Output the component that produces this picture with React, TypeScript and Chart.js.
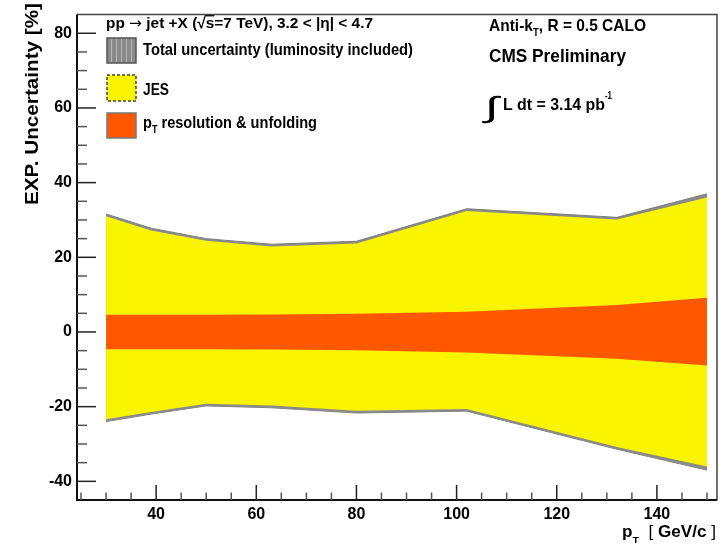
import React, { useEffect, useRef } from 'react';
import { Chart, registerables } from 'chart.js';

Chart.register(...registerables);

// ---- data ----
const ptPoints = [30, 39, 50, 63, 80, 102, 132, 150];
const totalUp = [31.6, 27.8, 25.0, 23.5, 24.3, 33.0, 30.7, 37.0];
const totalDown = [-24.0, -22.0, -19.8, -20.3, -21.7, -21.2, -31.4, -37.0];
const jesUp = [31.0, 27.2, 24.4, 22.9, 23.7, 32.4, 30.1, 36.0];
const jesDown = [-23.4, -21.4, -19.2, -19.7, -21.1, -20.6, -30.8, -36.0];
const resUp = [4.6, 4.6, 4.6, 4.7, 4.9, 5.4, 7.2, 9.2];
const resDown = [-4.6, -4.6, -4.6, -4.7, -4.9, -5.5, -7.2, -9.0];
const xTicks = [40, 60, 80, 100, 120, 140];
const yTicks = [-40, -20, 0, 20, 40, 60, 80];
const xRange = [24.2, 152];
const yRange = [-45, 85];

const FONT = '"Liberation Sans", Arial, Helvetica, sans-serif';
const ORANGE = '#ff5800';
const YELLOW = '#f9f400';
const GREY = '#8a8a8a';

const zip = (xs: number[], ys: number[]) => xs.map((x, i) => ({ x, y: ys[i] }));

type Seg = { t: string; k?: number; dy?: number; over?: boolean; weight?: string; family?: string };

function rich(
  ctx: CanvasRenderingContext2D,
  segs: Seg[],
  x: number,
  y: number,
  size: number,
  width?: number,
  align: 'left' | 'right' = 'left',
  color = '#000'
) {
  ctx.save();
  const fontFor = (s: Seg) => `${s.weight ?? 'bold'} ${size * (s.k ?? 1)}px ${s.family ?? FONT}`;
  let natural = 0;
  segs.forEach((s) => {
    ctx.font = fontFor(s);
    natural += ctx.measureText(s.t).width;
  });
  const sx = width ? width / natural : 1;
  const start = align === 'right' ? x - natural * sx : x;
  ctx.translate(start, y);
  ctx.scale(sx, 1);
  ctx.fillStyle = color;
  ctx.textBaseline = 'alphabetic';
  ctx.textAlign = 'left';
  let cx = 0;
  segs.forEach((s) => {
    ctx.font = fontFor(s);
    const w = ctx.measureText(s.t).width;
    ctx.fillText(s.t, cx, (s.dy ?? 0) * size);
    if (s.over) ctx.fillRect(cx - 1, -size * 0.86, w + 1, 1.3);
    cx += w;
  });
  ctx.restore();
}

const decorPlugin = {
  id: 'decor',
  afterDraw(chart: any) {
    const ctx: CanvasRenderingContext2D = chart.ctx;
    const { left, right, top, bottom } = chart.chartArea;
    const xs = chart.scales.x;
    const ys = chart.scales.y;
    ctx.save();

    // frame
    ctx.strokeStyle = '#444';
    ctx.lineWidth = 1.5;
    ctx.beginPath();
    ctx.moveTo(left, top);
    ctx.lineTo(right, top);
    ctx.lineTo(right, bottom);
    ctx.stroke();
    ctx.strokeStyle = '#111';
    ctx.lineWidth = 2;
    ctx.beginPath();
    ctx.moveTo(left, top);
    ctx.lineTo(left, bottom);
    ctx.lineTo(right, bottom);
    ctx.stroke();

    // inward ticks
    ctx.lineWidth = 1.5;
    for (let v = -45; v <= 85; v += 5) {
      const py = ys.getPixelForValue(v);
      if (py >= bottom - 1 || py <= top + 1) continue;
      const major = v % 20 === 0;
      ctx.strokeStyle = major ? '#222' : '#555';
      ctx.beginPath();
      ctx.moveTo(left, py);
      ctx.lineTo(left + (major ? 19 : 10), py);
      ctx.stroke();
    }
    for (let v = 25; v <= 150; v += 5) {
      const px = xs.getPixelForValue(v);
      if (px <= left + 1 || px >= right - 1) continue;
      const major = v % 20 === 0;
      ctx.strokeStyle = major ? '#222' : '#555';
      ctx.beginPath();
      ctx.moveTo(px, bottom);
      ctx.lineTo(px, bottom - (major ? 15 : 7.5));
      ctx.stroke();
    }

    // legend header
    rich(
      ctx,
      [
        { t: 'pp ' },
        { t: '→', family: '"DejaVu Sans", sans-serif', weight: 'normal' },
        { t: ' jet +X (√' },
        { t: 's', over: true },
        { t: '=7 TeV), 3.2 < |η| < 4.7' },
      ],
      106,
      28,
      15,
      267
    );

    // legend boxes
    const bx = 107, bw = 29;
    // total
    ctx.fillStyle = GREY;
    ctx.fillRect(bx, 38, bw, 25);
    ctx.strokeStyle = '#b5b5b5';
    ctx.lineWidth = 1;
    for (let i = 4; i < bw; i += 5) {
      ctx.beginPath();
      ctx.moveTo(bx + i + 0.5, 39);
      ctx.lineTo(bx + i + 0.5, 62);
      ctx.stroke();
    }
    ctx.strokeStyle = '#555';
    ctx.lineWidth = 1.5;
    ctx.strokeRect(bx, 38, bw, 25);
    // JES
    ctx.fillStyle = YELLOW;
    ctx.fillRect(bx, 75, bw, 26);
    ctx.setLineDash([3, 2]);
    ctx.strokeStyle = '#444';
    ctx.strokeRect(bx, 75, bw, 26);
    ctx.setLineDash([]);
    // pT resolution
    ctx.fillStyle = ORANGE;
    ctx.fillRect(bx, 113, bw, 25);
    ctx.strokeStyle = '#777';
    ctx.strokeRect(bx, 113, bw, 25);

    rich(ctx, [{ t: 'Total uncertainty (luminosity included)' }], 143, 55, 17, 270);
    rich(ctx, [{ t: 'JES' }], 143, 94.5, 17, 26);
    rich(
      ctx,
      [{ t: 'p' }, { t: 'T', k: 0.62, dy: 0.3 }, { t: ' resolution & unfolding' }],
      143,
      128,
      17,
      174
    );

    // right annotations
    rich(
      ctx,
      [{ t: 'Anti-k' }, { t: 'T', k: 0.62, dy: 0.3 }, { t: ', R = 0.5 CALO' }],
      489,
      30.5,
      17,
      157
    );
    rich(ctx, [{ t: 'CMS Preliminary' }], 489, 61.5, 18.5, 137);
    rich(ctx, [{ t: '∫', weight: 'normal' }], 485, 117, 29, 14);
    rich(ctx, [{ t: 'L dt = 3.14 pb' }], 503, 110, 16, 102);
    rich(ctx, [{ t: '-1' }], 605, 99, 10, 7);

    // axis titles
    ctx.save();
    ctx.translate(38, 3);
    ctx.rotate(-Math.PI / 2);
    rich(ctx, [{ t: 'EXP. Uncertainty [%]' }], 0, 0, 18.5, 202, 'right');
    ctx.restore();

    rich(
      ctx,
      [
        { t: 'p' },
        { t: 'T', k: 0.62, dy: 0.38 },
        { t: '  [ ', weight: 'normal' },
        { t: 'GeV/c' },
        { t: ' ]', weight: 'normal' },
      ],
      716,
      537,
      16,
      94,
      'right'
    );

    ctx.restore();
  },
};

export default function App() {
  const ref = useRef<HTMLCanvasElement>(null);

  useEffect(() => {
    if (!ref.current) return;
    const mk = (data: { x: number; y: number }[], extra: any) => ({
      data,
      pointRadius: 0,
      borderWidth: 0,
      tension: 0,
      fill: false,
      ...extra,
    });
    const chart = new Chart(ref.current, {
      type: 'line',
      data: {
        datasets: [
          mk(zip(ptPoints, resUp), { label: 'pT resolution & unfolding', fill: '+1', backgroundColor: ORANGE, borderColor: ORANGE }),
          mk(zip(ptPoints, resDown), { label: 'res-down', borderColor: ORANGE }),
          mk(zip(ptPoints, jesUp), { label: 'JES', fill: '+1', backgroundColor: YELLOW, borderColor: YELLOW }),
          mk(zip(ptPoints, jesDown), { label: 'jes-down', borderColor: YELLOW }),
          mk(zip(ptPoints, totalUp), { label: 'Total uncertainty', fill: '+1', backgroundColor: GREY, borderColor: '#7d7d7d', borderWidth: 1 }),
          mk(zip(ptPoints, totalDown), { label: 'total-down', borderColor: '#7d7d7d', borderWidth: 1 }),
        ],
      },
      options: {
        responsive: false,
        animation: false,
        devicePixelRatio: 1,
        layout: { padding: { top: 4, right: 6, left: 0, bottom: 0 } },
        plugins: { legend: { display: false }, tooltip: { enabled: false } },
        scales: {
          x: {
            type: 'linear',
            min: xRange[0],
            max: xRange[1],
            grid: { display: false, drawTicks: false },
            border: { display: false },
            afterBuildTicks: (s: any) => {
              s.ticks = xTicks.map((v) => ({ value: v }));
            },
            afterFit: (s: any) => {
              s.height = 47;
            },
            ticks: {
              padding: 5,
              color: '#000',
              maxRotation: 0,
              font: { family: FONT, size: 16, weight: 'bold' },
            },
          },
          y: {
            type: 'linear',
            min: yRange[0],
            max: yRange[1],
            grid: { display: false, drawTicks: false },
            border: { display: false },
            afterBuildTicks: (s: any) => {
              s.ticks = yTicks.map((v) => ({ value: v }));
            },
            afterFit: (s: any) => {
              s.width = 77;
            },
            ticks: {
              padding: 5,
              color: '#000',
              font: { family: FONT, size: 16, weight: 'bold' },
            },
          },
        },
      },
      plugins: [decorPlugin],
    });
    return () => chart.destroy();
  }, []);

  return (
    <div style={{ position: 'fixed', left: 0, top: 0, width: 723, height: 547, background: '#fff' }}>
      <canvas ref={ref} width={723} height={547} style={{ width: 723, height: 547, display: 'block' }} />
    </div>
  );
}
